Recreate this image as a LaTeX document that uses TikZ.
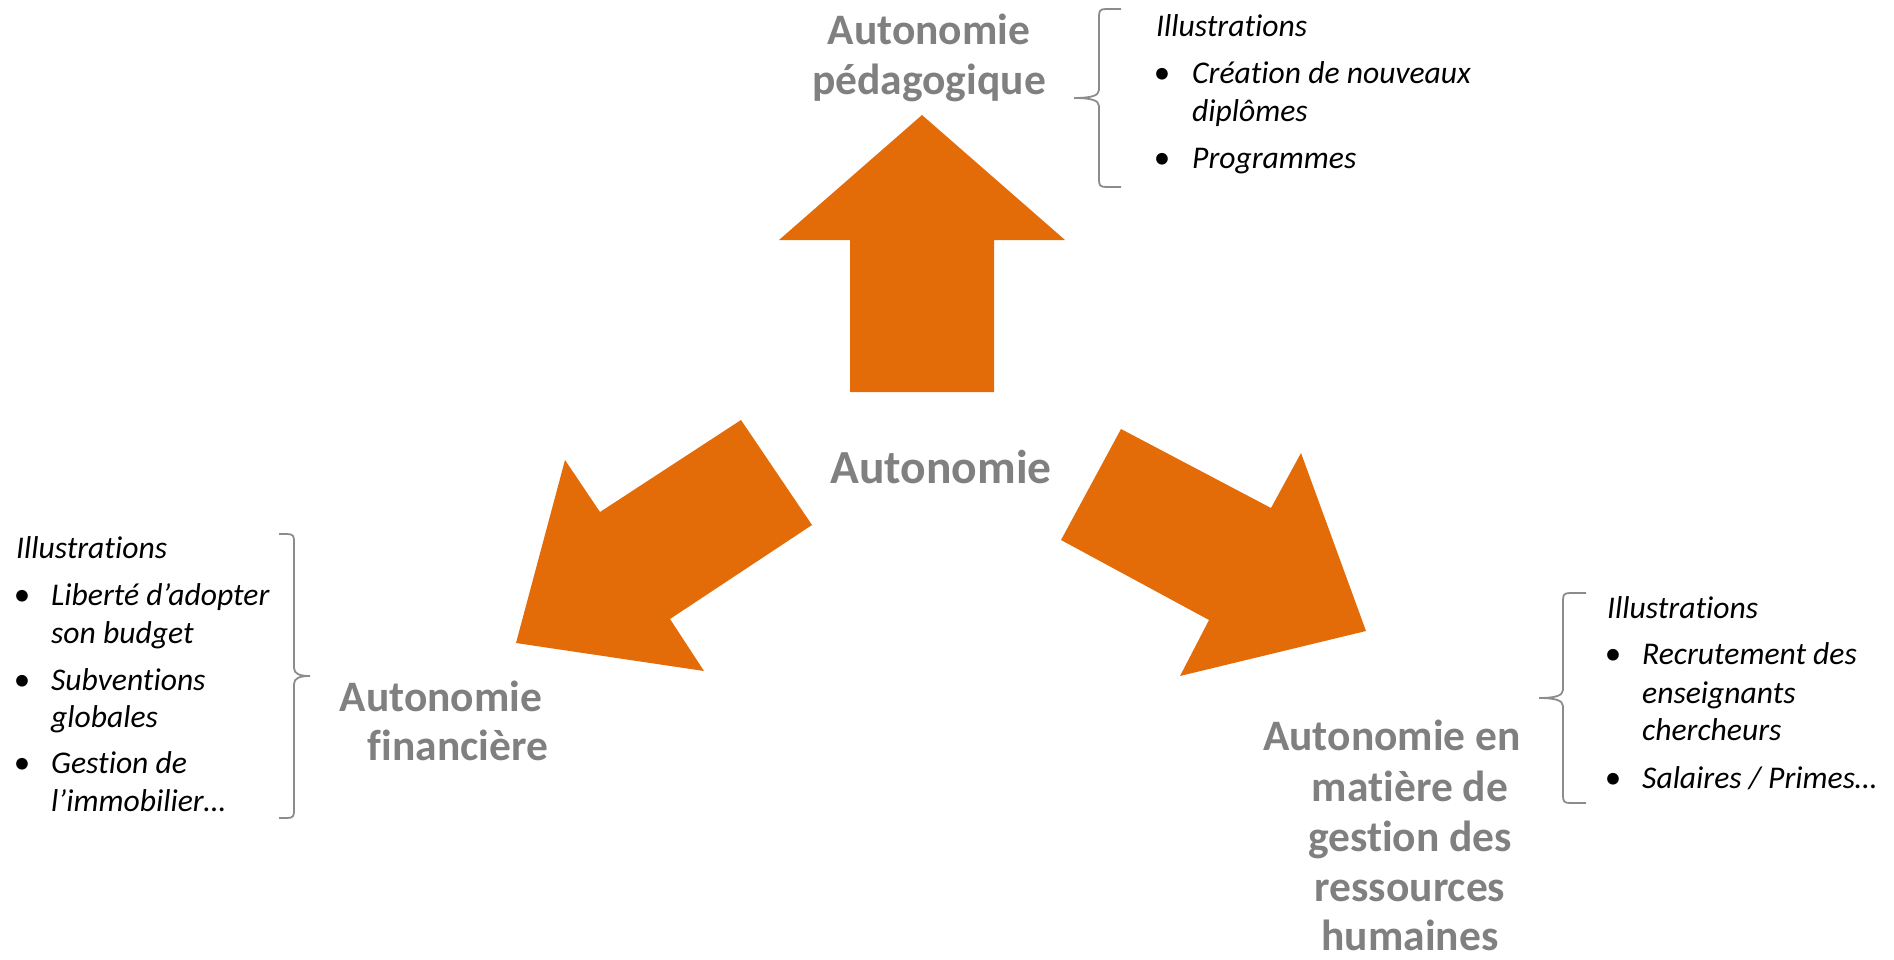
\documentclass[tikz,border=0pt]{standalone}
\usepackage{fontspec}
\setmainfont{Carlito}[RawFeature={-liga;-clig;-dlig}]
\definecolor{orng}{HTML}{E36C09}
\definecolor{lblgray}{HTML}{808080}
\definecolor{brgray}{HTML}{8C8C8C}
\tikzset{
  lbl/.style={font=\fontsize{43.5}{51}\selectfont\bfseries, text=lblgray, inner sep=0pt, anchor=base},
  itm/.style={font=\fontsize{31.6}{38}\selectfont\itshape, inner sep=0pt, anchor=base west},
  bul/.style={font=\fontsize{33}{38}\selectfont, inner sep=0pt, anchor=base},
  bracegray/.style={draw=brgray, line width=1.8pt},
  blockarrow/.style={fill=orng, draw=none}
}
\begin{document}
\begin{tikzpicture}[x=1pt,y=-1pt]
\useasboundingbox (0,0) rectangle (1894,960);
% block arrows
\fill[blockarrow] (922,115) -- (1065,240) -- (994,240) -- (994,392) -- (850,392) -- (850,240) -- (779,240) -- cycle;
\fill[blockarrow] (741,420) -- (812,525) -- (670,619) -- (704,671) -- (516,643) -- (565,460) -- (600,512) -- cycle;
\fill[blockarrow] (1121,429) -- (1271,508) -- (1301,453) -- (1366,631) -- (1180,676) -- (1209,620) -- (1061,540) -- cycle;
% centre
\node[lbl, font=\fontsize{47.5}{51}\selectfont\bfseries] (centre) at (941,483) {Autonomie};
% top label
\node[lbl] (top1) at (929,45) {Autonomie};
\node[lbl] (top2) at (929,95) {pédagogique};
% left label
\node[lbl] (left1) at (441,711) {Autonomie};
\node[lbl] (left2) at (458,760) {financière};
% right label
\node[lbl] (right1) at (1392,750) {Autonomie en};
\node[lbl] (right2) at (1410,801) {matière de};
\node[lbl] (right3) at (1410,851) {gestion des};
\node[lbl] (right4) at (1410,901) {ressources};
\node[lbl] (right5) at (1410,950) {humaines};
% top list
\node[itm] (tI) at (1156,37) {Illustrations};
\node[bul] (tb1) at (1162,84) {•};
\node[itm] (ta1) at (1192,84) {Création de nouveaux};
\node[itm] (ta2) at (1192,122) {diplômes};
\node[bul] (tb2) at (1162,168) {•};
\node[itm] (tc1) at (1192,168) {Programmes};
% left list
\node[itm] (lI) at (16,558) {Illustrations};
\node[bul] (lb1) at (22,605) {•};
\node[itm] (la1) at (51,605) {Liberté d’adopter};
\node[itm] (la2) at (51,643) {son budget};
\node[bul] (lb2) at (22,690) {•};
\node[itm] (lc1) at (51,690) {Subventions};
\node[itm] (lc2) at (51,727) {globales};
\node[bul] (lb3) at (22,773) {•};
\node[itm] (ld1) at (51,773) {Gestion de};
\node[itm] (ld2) at (51,811) {l’immobilier…};
% right list
\node[itm] (rI) at (1607,618) {Illustrations};
\node[bul] (rb1) at (1613,664) {•};
\node[itm] (ra1) at (1642,664) {Recrutement des};
\node[itm] (ra2) at (1642,703) {enseignants};
\node[itm] (ra3) at (1642,740) {chercheurs};
\node[bul] (rb2) at (1613,788) {•};
\node[itm] (rc1) at (1642,788) {Salaires / Primes…};
% braces
\draw[bracegray] (1121,9) -- (1106,9) .. controls (1100,9) and (1099,11) .. (1099,16) -- (1099,90)
  .. controls (1099,96) and (1090,98) .. (1074,98)
  .. controls (1090,98) and (1099,100) .. (1099,106) -- (1099,180)
  .. controls (1099,185) and (1100,187) .. (1106,187) -- (1121,187);
\draw[bracegray] (279,534) -- (287,534) .. controls (293,534) and (294,536) .. (294,541) -- (294,668)
  .. controls (294,674) and (300,676) .. (310,676)
  .. controls (300,676) and (294,678) .. (294,684) -- (294,811)
  .. controls (294,816) and (293,818) .. (287,818) -- (279,818);
\draw[bracegray] (1586,593) -- (1570,593) .. controls (1564,593) and (1563,595) .. (1563,600) -- (1563,690)
  .. controls (1563,696) and (1554,698) .. (1539,698)
  .. controls (1554,698) and (1563,700) .. (1563,706) -- (1563,796)
  .. controls (1563,801) and (1564,803) .. (1570,803) -- (1586,803);
\end{tikzpicture}
\end{document}
